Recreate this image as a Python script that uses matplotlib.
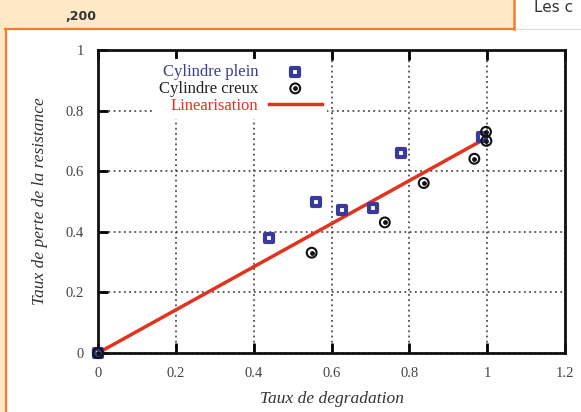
import matplotlib.pyplot as plt
from matplotlib.patches import Rectangle
from matplotlib.lines import Line2D
from matplotlib.legend_handler import HandlerTuple

# data
plein_x = [0.0, 0.44, 0.56, 0.628, 0.707, 0.778, 0.986]
plein_y = [0.0, 0.381, 0.50, 0.472, 0.48, 0.66, 0.713]
creux_x = [0.0, 0.549, 0.737, 0.837, 0.967, 0.997, 0.998]
creux_y = [0.0, 0.331, 0.431, 0.561, 0.641, 0.73, 0.70]
lin_x = [0.0, 0.99]
lin_y = [0.0, 0.704]
xticks = [0, 0.2, 0.4, 0.6, 0.8, 1, 1.2]
yticks = [0, 0.2, 0.4, 0.6, 0.8, 1]

blue = '#3a3a9c'
red = '#e2331f'
orange = '#f47a30'
beige = '#fee8c6'

W, H = 581, 412
fig = plt.figure(figsize=(W / 100, H / 100), dpi=100)

# page decoration around the chart
fig.patches.append(Rectangle((0, 1 - 28 / H), 514 / W, 28 / H, transform=fig.transFigure,
                             facecolor=beige, edgecolor='none', zorder=0))
fig.patches.append(Rectangle((0, 0), 5 / W, 1, transform=fig.transFigure,
                             facecolor=beige, edgecolor='none', zorder=0))
fig.add_artist(Line2D([5 / W, 514 / W], [1 - 28.5 / H] * 2, color=orange, lw=1.6))
fig.add_artist(Line2D([514 / W, 1], [1 - 28.5 / H] * 2, color='#dddddd', lw=0.8))
fig.add_artist(Line2D([5.5 / W] * 2, [0, 1 - 28.5 / H], color=orange, lw=1.6))
fig.add_artist(Line2D([514 / W] * 2, [1 - 28.5 / H, 1], color=orange, lw=1.8))
fig.text(65 / W, 1 - 17 / H, ',200', fontsize=9, fontweight='bold', color='#333333',
         family='DejaVu Sans', va='center')
fig.text(534 / W, 1 - 8 / H, 'Les c', fontsize=11, color='#333333',
         family='DejaVu Sans', va='center')

ax = fig.add_axes([98 / W, 59 / H, 467 / W, 303 / H])
serif = 'Liberation Serif'

ax.grid(True, color='#333333', linestyle=(0, (1.2, 2.2)), linewidth=1.1, zorder=0)
ax.plot(lin_x, lin_y, color=red, lw=2.5, zorder=2)

sq = ax.scatter(plein_x, plein_y, marker='s', s=26, facecolor='white', edgecolor=blue,
                linewidths=3.0, zorder=3, clip_on=False)
c1 = ax.scatter(creux_x, creux_y, marker='o', s=50, facecolor='none', edgecolor='#111111',
                linewidths=1.5, zorder=4, clip_on=False)
c2 = ax.scatter(creux_x, creux_y, marker='o', s=6, color='#111111', zorder=4, clip_on=False)
ln = Line2D([], [], color=red, lw=2.5)

ax.set_xlim(0, 1.2)
ax.set_ylim(0, 1)
ax.set_xticks(xticks)
ax.set_xticklabels(['0', '0.2', '0.4', '0.6', '0.8', '1', '1.2'])
ax.set_yticks(yticks)
ax.set_yticklabels(['0', '0.2', '0.4', '0.6', '0.8', '1'])
ax.tick_params(direction='in', length=7, width=2, top=True, right=False,
               labelsize=10.5, labelcolor='#444444')
ax.tick_params(axis='x', pad=10)
ax.tick_params(axis='y', pad=10)
for lab in ax.get_xticklabels() + ax.get_yticklabels():
    lab.set_family(serif)
for s in ax.spines.values():
    s.set_linewidth(2)
    s.set_color('#111111')

ax.set_xlabel('Taux de degradation', family=serif, style='italic', fontsize=12.5,
              color='#333333', labelpad=8)
ax.set_ylabel('Taux de perte de la resistance', family=serif, style='italic',
              fontsize=12.5, color='#333333', labelpad=13)

leg = ax.legend([sq, (c1, c2), ln], ['Cylindre plein', 'Cylindre creux', 'Linearisation'],
                handler_map={tuple: HandlerTuple(ndivide=1)},
                loc='upper right', bbox_to_anchor=(0.508, 0.998), markerfirst=False,
                frameon=True, framealpha=1, edgecolor='none', fancybox=False,
                prop={'family': serif, 'size': 12}, handlelength=3.2,
                labelspacing=0.05, borderpad=0.3, handletextpad=0.6)
leg.set_zorder(5)
for t, c in zip(leg.get_texts(), [blue, '#222222', red]):
    t.set_color(c)
    t.set_ha('right')

fig.savefig('out.png', dpi=100)
